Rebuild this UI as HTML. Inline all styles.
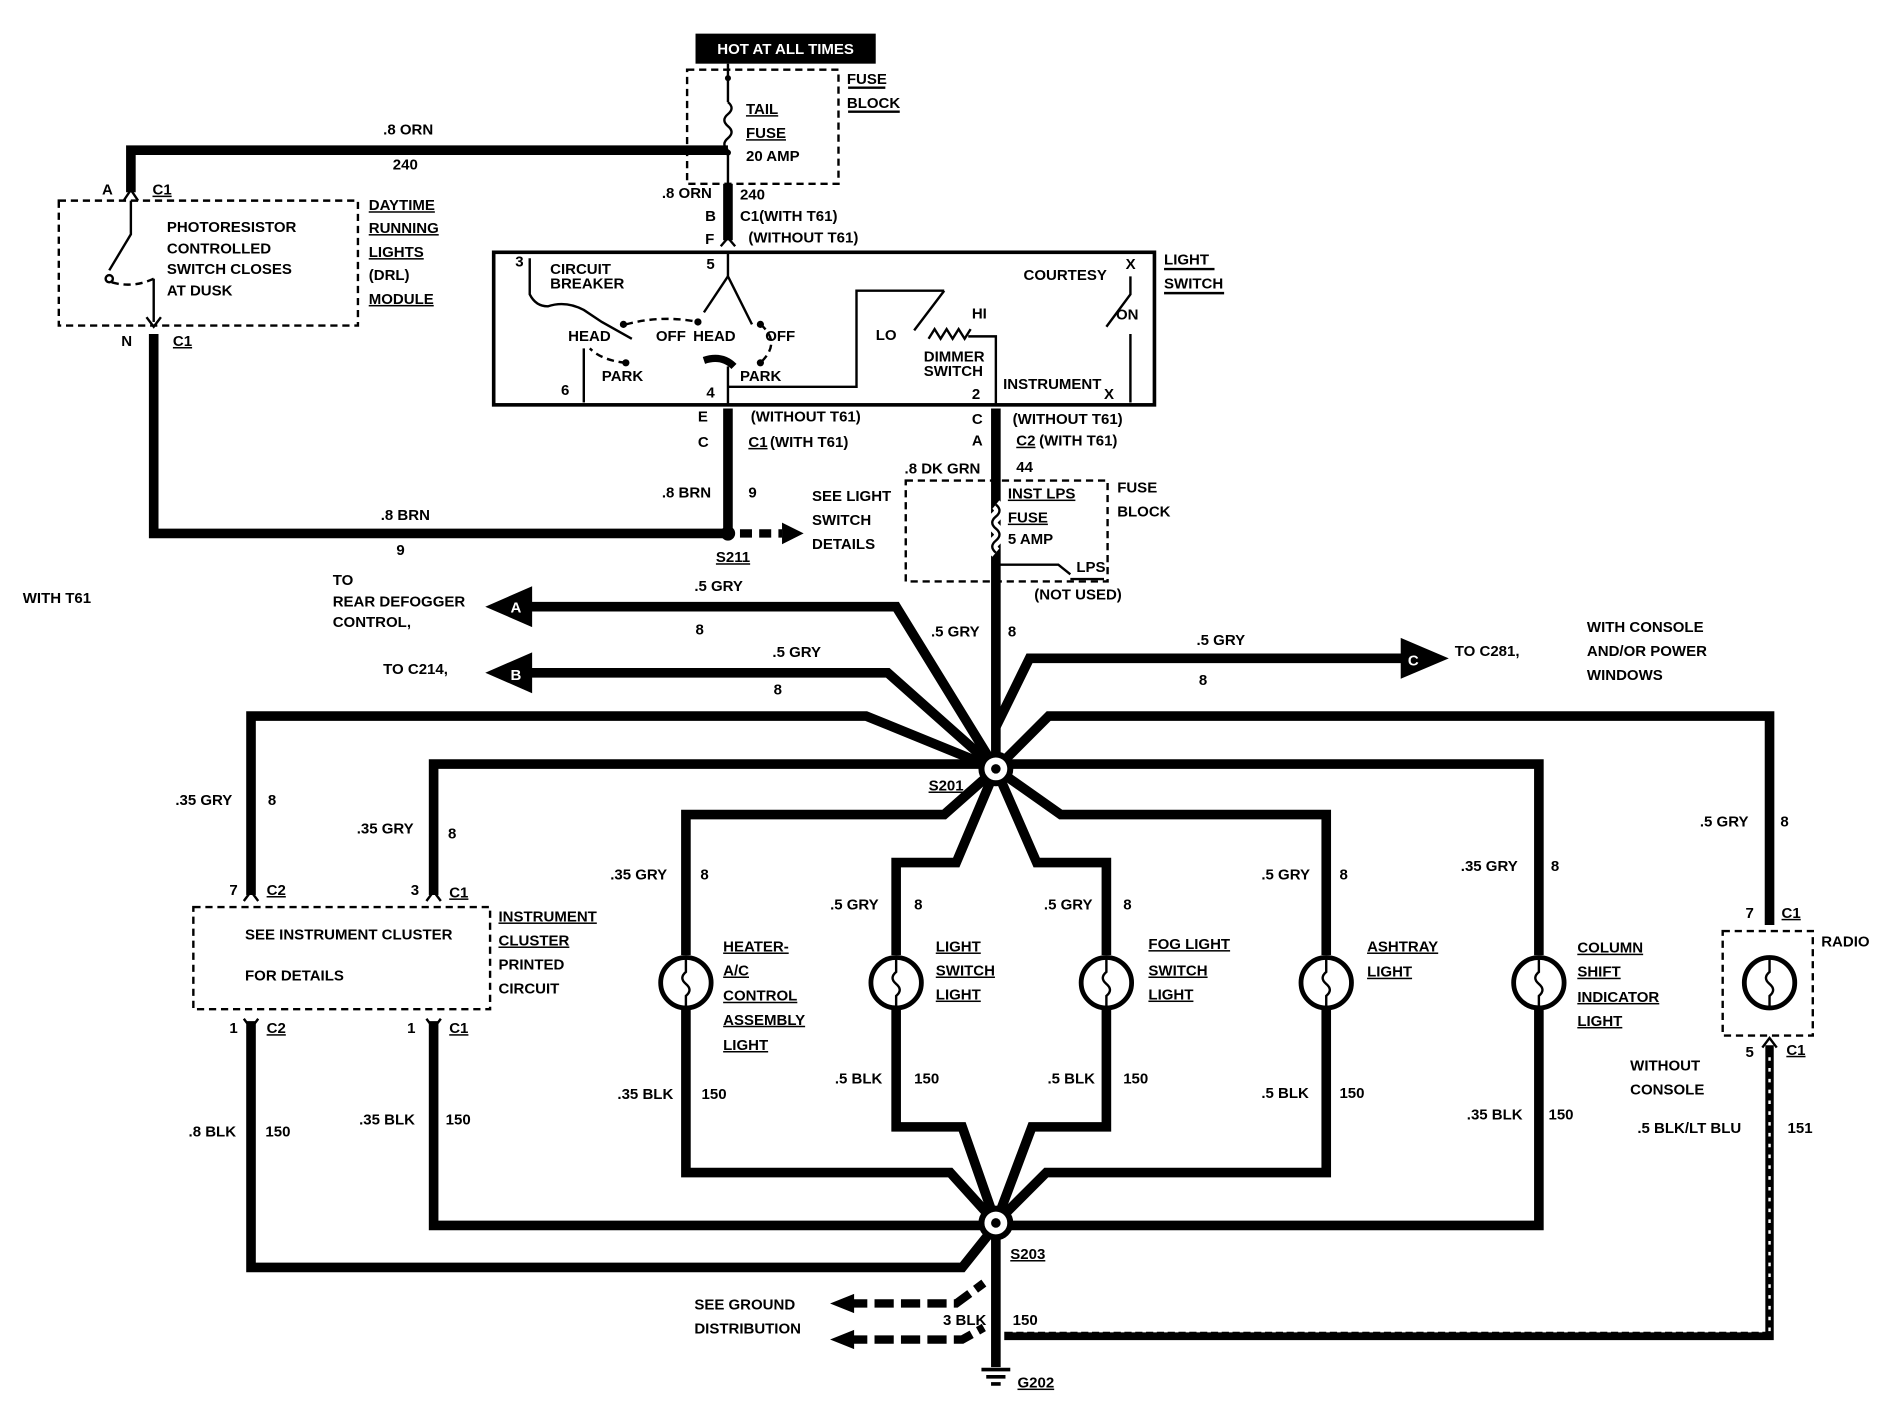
<!DOCTYPE html>
<html><head><meta charset="utf-8"><style>
html,body{margin:0;padding:0;background:#fff}
svg{display:block}
text{font-family:"Liberation Sans",sans-serif;font-weight:bold;font-size:12.5px;fill:#000}
.w{fill:none;stroke:#000;stroke-width:8;stroke-linejoin:miter}
.t{fill:none;stroke:#000;stroke-width:2}
.d{fill:none;stroke:#000;stroke-width:2;stroke-dasharray:6,4}
.u{text-decoration:underline}
</style></head><body>
<svg width="1886" height="1408" viewBox="0 0 1568 1172" xmlns="http://www.w3.org/2000/svg">
<!-- Hot at all times -->
<rect x="578" y="28" width="150" height="25" fill="#000"/>
<text x="653" y="45" text-anchor="middle" style="fill:#fff" font-size="13">HOT AT ALL TIMES</text>
<rect x="571" y="58" width="126" height="95" class="d"/>
<line x1="605" y1="53" x2="605" y2="85" class="t"/>
<path d="M605 85 q6 5 0 10 q-6 5 0 10 q6 5 0 10 q-6 5 0 10" class="t"/>
<line x1="605" y1="125" x2="605" y2="200" class="t"/>
<circle cx="605" cy="65" r="2.5"/><circle cx="605" cy="127" r="2.5"/>
<text x="620" y="95" class="u" font-size="14">TAIL</text>
<text x="620" y="115" class="u" font-size="14">FUSE</text>
<text x="620" y="134" font-size="11">20 AMP</text>
<text x="704" y="70" font-size="14">FUSE</text><text x="704" y="90" font-size="14">BLOCK</text>
<line x1="705" y1="73" x2="736" y2="73" class="t"/><line x1="705" y1="93" x2="748" y2="93" class="t"/>
<!-- ORN wire -->
<polyline points="605,125 108,125 108,160" class="w"/>
<text x="318" y="112" font-size="13">.8 ORN</text><text x="326" y="141">240</text>
<path d="M102 167 L108 158 L114 167" class="t"/>
<text x="84" y="162">A</text><text x="126" y="162" class="u">C1</text>
<!-- DRL -->
<rect x="48" y="167" width="249" height="104" class="d"/>
<path d="M108 167 V195 L90 225" class="t"/><circle cx="90" cy="232" r="3" class="t"/>
<path d="M92 235 Q110 240 127 232" class="d"/><line x1="127" y1="232" x2="127" y2="268" class="t"/>
<text x="138" y="193" font-size="11">PHOTORESISTOR</text>
<text x="138" y="211" font-size="11">CONTROLLED</text>
<text x="138" y="228" font-size="11">SWITCH CLOSES</text>
<text x="138" y="246" font-size="11">AT DUSK</text>
<text x="306" y="175" class="u" font-size="13">DAYTIME</text>
<text x="306" y="194" class="u" font-size="13">RUNNING</text>
<text x="306" y="214" class="u" font-size="13">LIGHTS</text>
<text x="306" y="233" font-size="13">(DRL)</text>
<text x="306" y="253" class="u" font-size="13">MODULE</text>
<path d="M121 264 L127 272 L133 264" class="t"/>
<text x="100" y="288">N</text><text x="143" y="288" class="u">C1</text>
<polyline points="127,278 127,444 605,444" class="w"/>
<text x="316" y="433" font-size="13">.8 BRN</text><text x="329" y="462">9</text>
<!-- ORN down to switch -->
<line x1="605" y1="153" x2="605" y2="200" class="w"/>
<text x="550" y="165">.8 ORN</text><text x="615" y="166">240</text>
<text x="586" y="184">B</text><text x="615" y="184">C1(WITH T61)</text>
<text x="586" y="203">F</text><text x="622" y="202">(WITHOUT T61)</text>
<path d="M599 205 L605 198 L611 205" class="t"/>
<!-- Light switch -->
<rect x="410" y="210" width="550" height="127" fill="none" stroke="#000" stroke-width="3"/>
<text x="968" y="220" font-size="13">LIGHT</text><text x="968" y="240" font-size="13">SWITCH</text>
<line x1="968" y1="224" x2="1010" y2="224" class="t"/><line x1="968" y1="244" x2="1018" y2="244" class="t"/>
<text x="428" y="222" font-size="10">3</text><text x="587" y="224" font-size="10">5</text>
<text x="457" y="228" font-size="10">CIRCUIT</text><text x="457" y="240" font-size="10">BREAKER</text>
<path d="M440 215 V245 Q445 255 455 255 Q470 250 485 258 L500 268 L525 282" class="t"/>
<path d="M605 210 V230 L625 270" class="t"/><path d="M605 230 L585 260" class="t"/>
<circle cx="518" cy="270" r="3"/><circle cx="580" cy="268" r="3"/><circle cx="632" cy="270" r="3"/><circle cx="520" cy="302" r="3"/><circle cx="632" cy="302" r="3"/>
<path d="M520 270 Q550 262 580 268" class="d"/><path d="M520 302 Q500 300 490 290" class="d"/><path d="M632 270 Q650 285 632 302" class="d"/>
<path d="M585 300 Q600 295 610 305" stroke="#000" stroke-width="6" fill="none"/>
<text x="472" y="284" font-size="10">HEAD</text><text x="545" y="284" font-size="10">OFF</text><text x="576" y="284" font-size="10">HEAD</text><text x="636" y="284" font-size="10">OFF</text>
<text x="500" y="317" font-size="10">PARK</text><text x="615" y="317" font-size="10">PARK</text>
<path d="M485 290 V335" class="t"/><text x="466" y="329" font-size="10">6</text>
<path d="M605 305 V337" class="t"/><text x="587" y="331" font-size="10">4</text>
<path d="M605 322 H712 V242 H785" class="t"/><text x="728" y="283" font-size="10">LO</text>
<path d="M785 242 L760 275 M772 282 l5 -8 l5 8 l5 -8 l5 8 l5 -8 l5 8 l5 -8" class="t"/>
<text x="808" y="265" font-size="10">HI</text>
<text x="768" y="301" font-size="10">DIMMER</text><text x="768" y="313" font-size="10">SWITCH</text>
<path d="M805 280 H828 V337" class="t"/>
<text x="834" y="324" font-size="10">INSTRUMENT</text>
<text x="851" y="233" font-size="10">COURTESY</text><text x="936" y="224" font-size="10">X</text>
<path d="M940 230 V245 L920 272 M940 278 V335" class="t"/><text x="928" y="266" font-size="10">ON</text>
<text x="918" y="332" font-size="10">X</text><text x="808" y="332" font-size="10">2</text>
<!-- from light switch down -->
<line x1="605" y1="340" x2="605" y2="444" class="w"/>
<text x="580" y="351">E</text><text x="624" y="351">(WITHOUT T61)</text>
<text x="580" y="372">C</text><text x="622" y="372" class="u">C1</text><text x="640" y="372">(WITH  T61)</text>
<text x="550" y="414">.8 BRN</text><text x="622" y="414">9</text>
<circle cx="605" cy="444" r="6"/>
<path d="M615 444 H650" stroke="#000" stroke-width="7" stroke-dasharray="10,6"/>
<path d="M650 435 L668 444 L650 453 Z"/>
<text x="595" y="468" class="u">S211</text>
<text x="675" y="417" font-size="13">SEE LIGHT</text><text x="675" y="437" font-size="13">SWITCH</text><text x="675" y="457" font-size="13">DETAILS</text>
<text x="18" y="502">WITH T61</text>
<line x1="828" y1="340" x2="828" y2="640" class="w"/>
<text x="808" y="353">C</text><text x="842" y="353">(WITHOUT T61)</text>
<text x="808" y="371">A</text><text x="845" y="371" class="u">C2</text><text x="864" y="371">(WITH T61)</text>
<text x="752" y="394">.8 DK GRN</text><text x="845" y="393">44</text>
<rect x="753" y="400" width="168" height="84" class="d"/>
<path d="M828 420 q6 5 0 10 q-6 5 0 10 q6 5 0 10 q-6 5 0 10" fill="none" stroke="#fff" stroke-width="9"/>
<path d="M828 420 q6 5 0 10 q-6 5 0 10 q6 5 0 10 q-6 5 0 10" class="t"/>
<path d="M830 470 H880 L890 478 M890 482 H918" class="t"/>
<text x="838" y="415" class="u" font-size="13">INST LPS</text><text x="838" y="435" class="u" font-size="13">FUSE</text><text x="838" y="453" font-size="10">5 AMP</text>
<text x="895" y="476" font-size="10">LPS</text><text x="860" y="499">(NOT USED)</text>
<text x="929" y="410" font-size="13">FUSE</text><text x="929" y="430" font-size="13">BLOCK</text>
<!-- S201 branches -->
<polyline points="828,640 745,505 440,505" class="w"/><path d="M403 505 L442 488 L442 522 Z"/>
<text x="424" y="510" style="fill:#fff" font-size="14">A</text>
<text x="577" y="492" font-size="13">.5 GRY</text><text x="578" y="528">8</text>
<text x="276" y="487">TO</text><text x="276" y="505" font-size="13">REAR DEFOGGER</text><text x="276" y="522">CONTROL,</text>
<polyline points="828,640 738,560 440,560" class="w"/><path d="M403 560 L442 543 L442 577 Z"/>
<text x="424" y="566" style="fill:#fff" font-size="14">B</text>
<text x="642" y="547" font-size="13">.5 GRY</text><text x="643" y="578">8</text><text x="318" y="561">TO C214,</text>
<text x="774" y="530" font-size="13">.5 GRY</text><text x="838" y="530">8</text>
<polyline points="828,605 856,548 1168,548" class="w"/><path d="M1205 548 L1165 531 L1165 565 Z"/>
<text x="1171" y="554" style="fill:#fff" font-size="14">C</text>
<text x="995" y="537" font-size="13">.5 GRY</text><text x="997" y="570">8</text><text x="1210" y="546">TO C281,</text>
<text x="1320" y="526">WITH CONSOLE</text><text x="1320" y="546">AND/OR POWER</text><text x="1320" y="566">WINDOWS</text>
<polyline points="208,745 208,596 720,596 828,640" class="w"/>
<polyline points="360,745 360,636 828,636" class="w"/>
<polyline points="828,640 872,596 1472,596 1472,770" class="w"/>
<polyline points="828,636 1280,636 1280,795" class="w"/>
<polyline points="570,795 570,678 785,678 828,640" class="w"/>
<polyline points="745,795 745,718 795,718 828,640" class="w"/>
<polyline points="920,795 920,718 862,718 828,640" class="w"/>
<polyline points="1103,795 1103,678 882,678 828,640" class="w"/>
<circle cx="828" cy="640" r="12" fill="#fff" stroke="#000" stroke-width="5"/><circle cx="828" cy="640" r="4"/>
<text x="772" y="658" class="u">S201</text>
<!-- labels upper -->
<text x="145" y="670">.35 GRY</text><text x="222" y="670">8</text>
<text x="296" y="694">.35 GRY</text><text x="372" y="698">8</text>
<text x="507" y="732">.35 GRY</text><text x="582" y="732">8</text>
<text x="690" y="757">.5 GRY</text><text x="760" y="757">8</text>
<text x="868" y="757">.5 GRY</text><text x="934" y="757">8</text>
<text x="1049" y="732">.5 GRY</text><text x="1114" y="732">8</text>
<text x="1215" y="725">.35 GRY</text><text x="1290" y="725">8</text>
<text x="1414" y="688">.5 GRY</text><text x="1481" y="688">8</text>
<!-- Instrument cluster -->
<rect x="160" y="755" width="247" height="85" class="d"/>
<path d="M202 750 L208 742 L214 750 M354 750 L360 742 L366 750" class="t"/>
<text x="190" y="745">7</text><text x="221" y="745" class="u">C2</text>
<text x="341" y="745">3</text><text x="373" y="747" class="u">C1</text>
<text x="203" y="782" font-size="11">SEE INSTRUMENT CLUSTER</text><text x="203" y="816" font-size="11">FOR DETAILS</text>
<text x="414" y="767" class="u" font-size="13">INSTRUMENT</text><text x="414" y="787" class="u" font-size="13">CLUSTER</text>
<text x="414" y="807" font-size="13">PRINTED</text><text x="414" y="827" font-size="13">CIRCUIT</text>
<path d="M202 848 L208 856 L214 848 M354 848 L360 856 L366 848" class="t"/>
<text x="190" y="860">1</text><text x="221" y="860" class="u">C2</text>
<text x="338" y="860">1</text><text x="373" y="860" class="u">C1</text>
<!-- lamps -->
<g>
<circle cx="570" cy="818" r="21" fill="#fff" stroke="#000" stroke-width="4"/>
<circle cx="745" cy="818" r="21" fill="#fff" stroke="#000" stroke-width="4"/>
<circle cx="920" cy="818" r="21" fill="#fff" stroke="#000" stroke-width="4"/>
<circle cx="1103" cy="818" r="21" fill="#fff" stroke="#000" stroke-width="4"/>
<circle cx="1280" cy="818" r="21" fill="#fff" stroke="#000" stroke-width="4"/>
<circle cx="1472" cy="818" r="21" fill="#fff" stroke="#000" stroke-width="4"/>
<path d="M570 797 v12 q-6 5 0 10 q6 5 0 10 v10 M745 797 v12 q-6 5 0 10 q6 5 0 10 v10 M920 797 v12 q-6 5 0 10 q6 5 0 10 v10 M1103 797 v12 q-6 5 0 10 q6 5 0 10 v10 M1280 797 v12 q-6 5 0 10 q6 5 0 10 v10 M1472 797 v12 q-6 5 0 10 q6 5 0 10 v10" class="t"/>
</g>
<text x="601" y="792" class="u" font-size="13">HEATER-</text><text x="601" y="812" class="u" font-size="13">A/C</text><text x="601" y="833" class="u" font-size="13">CONTROL</text><text x="601" y="853" class="u" font-size="13">ASSEMBLY</text><text x="601" y="874" class="u" font-size="13">LIGHT</text>
<text x="778" y="792" class="u" font-size="13">LIGHT</text><text x="778" y="812" class="u" font-size="13">SWITCH</text><text x="778" y="832" class="u" font-size="13">LIGHT</text>
<text x="955" y="790" class="u" font-size="13">FOG LIGHT</text><text x="955" y="812" class="u" font-size="13">SWITCH</text><text x="955" y="832" class="u" font-size="13">LIGHT</text>
<text x="1137" y="792" class="u" font-size="13">ASHTRAY</text><text x="1137" y="813" class="u" font-size="13">LIGHT</text>
<text x="1312" y="793" class="u" font-size="13">COLUMN</text><text x="1312" y="813" class="u" font-size="13">SHIFT</text><text x="1312" y="834" class="u" font-size="13">INDICATOR</text><text x="1312" y="854" class="u" font-size="13">LIGHT</text>
<rect x="1433" y="775" width="75" height="87" class="d"/>
<text x="1452" y="764">7</text><text x="1482" y="764" class="u">C1</text><text x="1515" y="788">RADIO</text>
<text x="1452" y="880">5</text><text x="1486" y="878" class="u">C1</text>
<text x="1356" y="891">WITHOUT</text><text x="1356" y="911">CONSOLE</text>
<!-- bottom loops -->
<polyline points="570,840 570,976 790,976 828,1018" class="w"/>
<polyline points="745,840 745,938 800,938 828,1018" class="w"/>
<polyline points="920,840 920,938 858,938 828,1018" class="w"/>
<polyline points="1103,840 1103,976 870,976 828,1018" class="w"/>
<polyline points="1280,840 1280,1020 828,1020" class="w"/>
<polyline points="360,850 360,1020 828,1020" class="w"/>
<polyline points="208,850 208,1055 800,1055 828,1020" class="w"/>
<line x1="828" y1="1018" x2="828" y2="1138" class="w"/>
<circle cx="828" cy="1018" r="12" fill="#fff" stroke="#000" stroke-width="5"/><circle cx="828" cy="1018" r="4"/>
<text x="840" y="1048" class="u">S203</text>
<text x="513" y="915">.35 BLK</text><text x="583" y="915">150</text>
<text x="694" y="902">.5 BLK</text><text x="760" y="902">150</text>
<text x="871" y="902">.5 BLK</text><text x="934" y="902">150</text>
<text x="1049" y="914">.5 BLK</text><text x="1114" y="914">150</text>
<text x="1220" y="932">.35 BLK</text><text x="1288" y="932">150</text>
<text x="156" y="946">.8 BLK</text><text x="220" y="946">150</text>
<text x="298" y="936">.35 BLK</text><text x="370" y="936">150</text>
<!-- radio ground 151 -->
<path d="M1472 870 V1112 H835" stroke="#000" stroke-width="7" fill="none"/>
<path d="M1472 880 V1108 H840" stroke="#fff" stroke-width="2" stroke-dasharray="3,6" fill="none"/>
<path d="M1466 872 L1472 864 L1478 872" class="t"/>
<text x="1362" y="943">.5 BLK/LT BLU</text><text x="1487" y="943">151</text>
<!-- ground distribution -->
<path d="M705 1085 H795 L818 1068 M705 1115 H800 L818 1105" stroke="#000" stroke-width="7" fill="none" stroke-dasharray="16,6"/>
<path d="M690 1085 L710 1077 L710 1093 Z M690 1115 L710 1107 L710 1123 Z"/>
<text x="577" y="1090">SEE GROUND</text><text x="577" y="1110">DISTRIBUTION</text>
<text x="784" y="1103">3 BLK</text><text x="842" y="1103">150</text>
<path d="M816 1140 H840 M820 1146 H836 M824 1152 H832" stroke="#000" stroke-width="3"/>
<text x="846" y="1155" class="u">G202</text>
</svg>
</body></html>
